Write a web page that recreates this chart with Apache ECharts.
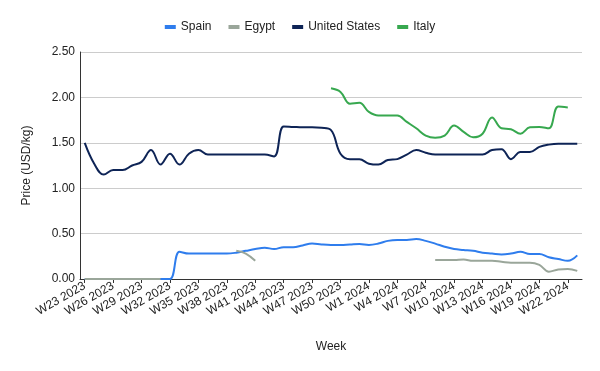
<!DOCTYPE html>
<html>
<head>
<meta charset="utf-8">
<script src="https://cdn.jsdelivr.net/npm/echarts@6/dist/echarts.min.js"></script>
<style>html,body{margin:0;padding:0;background:#fff}#c{width:600px;height:371px}</style>
</head>
<body>
<div id="c"></div>
<script>
var weeks = ["W23 2023","W24 2023","W25 2023","W26 2023","W27 2023","W28 2023","W29 2023","W30 2023","W31 2023","W32 2023",
"W33 2023","W34 2023","W35 2023","W36 2023","W37 2023","W38 2023","W39 2023","W40 2023","W41 2023","W42 2023",
"W43 2023","W44 2023","W45 2023","W46 2023","W47 2023","W48 2023","W49 2023","W50 2023","W51 2023","W52 2023",
"W1 2024","W2 2024","W3 2024","W4 2024","W5 2024","W6 2024","W7 2024","W8 2024","W9 2024","W10 2024",
"W11 2024","W12 2024","W13 2024","W14 2024","W15 2024","W16 2024","W17 2024","W18 2024","W19 2024","W20 2024",
"W21 2024","W22 2024","W23 2024"];

var spain = [0,0,0,0,0,0,0,0,0,0,
0.30,0.28,0.28,0.28,0.28,0.28,0.29,0.31,0.33,0.345,
0.33,0.35,0.35,0.37,0.39,0.38,0.375,0.375,0.38,0.385,
0.375,0.39,0.42,0.43,0.43,0.44,0.42,0.39,0.355,0.33,
0.32,0.31,0.29,0.28,0.27,0.28,0.30,0.275,0.275,0.24,
0.22,0.20,0.26];

var egypt = [0,0,0,0,0,0,0,0,0,null,
null,null,null,null,null,null,0.31,0.28,0.20,null,
null,null,null,null,null,null,null,null,null,null,
null,null,null,null,null,null,null,0.21,0.21,0.21,
0.215,0.20,0.20,0.20,0.19,0.18,0.18,0.18,0.155,0.08,
0.105,0.11,0.09];

var unitedStates = [1.50,1.27,1.15,1.20,1.20,1.25,1.29,1.42,1.26,1.38,
1.26,1.38,1.42,1.37,1.37,1.37,1.37,1.37,1.37,1.37,
1.35,1.68,1.675,1.67,1.67,1.665,1.64,1.38,1.32,1.32,
1.27,1.26,1.31,1.32,1.37,1.42,1.39,1.37,1.37,1.37,
1.37,1.37,1.37,1.42,1.43,1.32,1.40,1.40,1.455,1.48,
1.49,1.49,1.49];

var italy = [null,null,null,null,null,null,null,null,null,null,
null,null,null,null,null,null,null,null,null,null,
null,null,null,null,null,null,2.10,2.06,1.93,1.94,
1.84,1.80,1.80,1.80,1.73,1.66,1.58,1.555,1.58,1.69,
1.62,1.56,1.60,1.78,1.66,1.65,1.60,1.67,1.675,1.66,
1.90,1.89,null];

var yTicks = {min: 0, max: 2.5, step: 0.5};

var FONT = '"Liberation Sans", Arial, sans-serif';
function line(name, data, color) {
  return {
    name: name, type: 'line', data: data, smooth: 0.4, showSymbol: false,
    connectNulls: false, lineStyle: {width: 2, color: color}, itemStyle: {color: color}
  };
}
var chart = echarts.init(document.getElementById('c'), null, {renderer: 'canvas'});
chart.setOption({
  animation: false,
  textStyle: {fontFamily: FONT},
  legend: {
    top: 16, left: 'center', itemWidth: 11, itemHeight: 4, itemGap: 17,
    icon: 'rect',
    textStyle: {fontFamily: FONT, fontSize: 12, color: '#222'},
    data: ['Spain', 'Egypt', 'United States', 'Italy']
  },
  grid: {left: 80, right: 18, top: 52, bottom: 92, containLabel: false},
  xAxis: {
    type: 'category', data: weeks, boundaryGap: true,
    name: 'Week', nameLocation: 'middle', nameGap: 62,
    nameTextStyle: {fontFamily: FONT, fontSize: 12, color: '#222'},
    axisLine: {lineStyle: {color: '#333', width: 1}},
    axisTick: {show: true, alignWithLabel: true, interval: 2, length: 4, lineStyle: {color: '#333'}},
    axisLabel: {interval: 2, rotate: 30, fontFamily: FONT, fontSize: 12, color: '#222', margin: 6}
  },
  yAxis: {
    type: 'value', min: yTicks.min, max: yTicks.max, interval: yTicks.step,
    name: 'Price (USD/kg)', nameLocation: 'middle', nameGap: 47,
    nameTextStyle: {fontFamily: FONT, fontSize: 12, color: '#222'},
    axisLine: {show: true, lineStyle: {color: '#333', width: 1}},
    axisTick: {show: false},
    axisLabel: {fontFamily: FONT, fontSize: 12, color: '#222', margin: 5,
      formatter: function (v) { return v.toFixed(2); }},
    splitLine: {lineStyle: {color: '#cccccc', width: 1}}
  },
  series: [
    line('Spain', spain, '#2f7ded'),
    line('Egypt', egypt, '#9aa69a'),
    line('United States', unitedStates, '#0e2456'),
    line('Italy', italy, '#37a84f')
  ]
});
</script>
</body>
</html>
